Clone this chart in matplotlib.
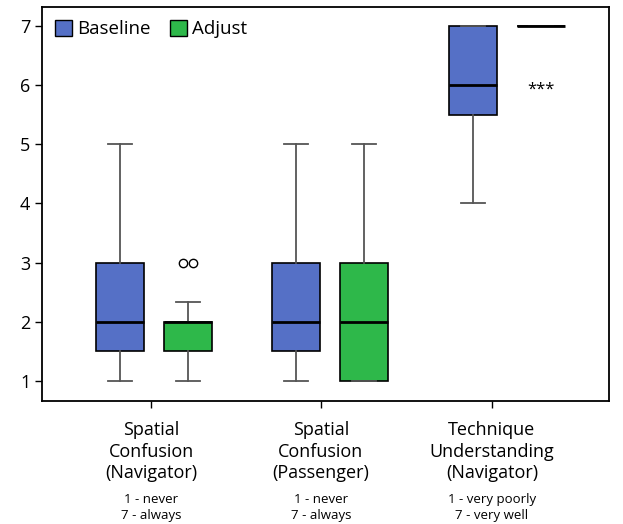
import matplotlib.pyplot as plt
from matplotlib.patches import Patch

plt.rcParams['font.family'] = ['Open Sans', 'DejaVu Sans']

groups = ["Spatial\nConfusion\n(Navigator)", "Spatial\nConfusion\n(Passenger)",
          "Technique\nUnderstanding\n(Navigator)"]
scales = ["1 - never\n7 - always", "1 - never\n7 - always", "1 - very poorly\n7 - very well"]

# whisker low, q1, median, q3, whisker high
baseline_stats = [[1, 1.5, 2, 3, 5], [1, 1.5, 2, 3, 5], [4, 5.5, 6, 7, 7]]
adjust_stats = [[1, 1.5, 2, 2, 2.33], [1, 1, 2, 3, 5], [7, 7, 7, 7, 7]]
adjust_fliers = [[3, 3], [], []]

blue = "#5570c6"
green = "#2eb84a"


def to_stats(rows, fliers=None):
    out = []
    for i, (lo, q1, med, q3, hi) in enumerate(rows):
        out.append(dict(whislo=lo, q1=q1, med=med, q3=q3, whishi=hi,
                        fliers=fliers[i] if fliers else []))
    return out


fig = plt.figure(figsize=(6.23, 5.24), dpi=100)
ax = fig.add_axes([0.0674, 0.2347, 0.9101, 0.7519])

pos_b = [0, 1, 2]
pos_a = [0.385, 1.385, 2.385]
width = 0.272

common = dict(widths=width, patch_artist=True, showfliers=False,
              whiskerprops=dict(color="#555555", lw=1.3),
              capprops=dict(color="#555555", lw=1.3),
              medianprops=dict(color="black", lw=2),
              capwidths=width / 2)
ax.bxp(to_stats(baseline_stats), positions=pos_b,
       boxprops=dict(facecolor=blue, edgecolor="black", lw=1.2), **common)
bp = ax.bxp(to_stats(adjust_stats), positions=pos_a,
            boxprops=dict(facecolor=green, edgecolor="black", lw=1.2), **common)

# outliers drawn side by side
for i, fl in enumerate(adjust_fliers):
    n = len(fl)
    for j, v in enumerate(fl):
        off = (j - (n - 1) / 2) * 0.057
        ax.plot(pos_a[i] + off, v, "o", mfc="white", mec="black", ms=6, mew=1)

ax.annotate("***", xy=(pos_a[2], 6), xytext=(0, -3), textcoords="offset points",
            ha="center", va="center", fontsize=12)

ax.set_xlim(-0.442, 2.771)
ax.set_ylim(0.66, 7.32)
ax.set_yticks([1, 2, 3, 4, 5, 6, 7])
ax.tick_params(axis="y", labelsize=13, length=5, width=1)
ax.tick_params(axis="x", length=5, width=1)

tick_x = [0.176, 1.139, 2.108]
ax.set_xticks(tick_x)
ax.set_xticklabels([])
for x, g, s in zip(tick_x, groups, scales):
    ax.annotate(g, xy=(x, 0), xycoords=("data", "axes fraction"),
                xytext=(0, -14.5), textcoords="offset points",
                ha="center", va="top", fontsize=13, linespacing=1.25)
    ax.annotate(s, xy=(x, 0), xycoords=("data", "axes fraction"),
                xytext=(0, -66), textcoords="offset points",
                ha="center", va="top", fontsize=9.5, linespacing=1.35)

for sp in ax.spines.values():
    sp.set_linewidth(1.3)

handles = [Patch(facecolor=blue, edgecolor="black", label="Baseline"),
           Patch(facecolor=green, edgecolor="black", label="Adjust")]
ax.legend(handles=handles, loc="upper left", ncol=2, frameon=False,
          fontsize=13.5, handlelength=0.9, handleheight=0.9,
          handletextpad=0.3, columnspacing=1.0, borderaxespad=0.3)

fig.savefig("out.png", dpi=100)
